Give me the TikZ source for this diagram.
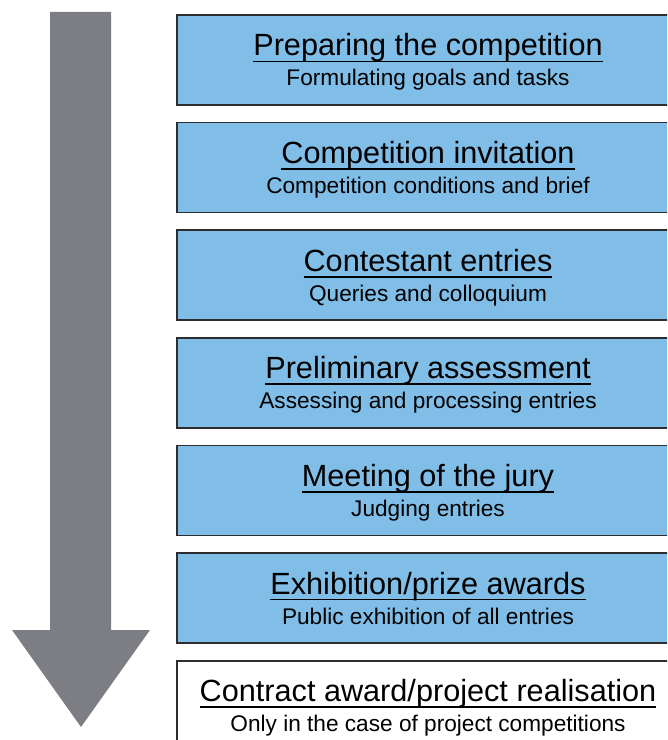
\documentclass[tikz,border=0pt]{standalone}
\usepackage{fontspec}
\setmainfont{Liberation Sans}
\usetikzlibrary{positioning}
\definecolor{stageblue}{RGB}{128,190,232}
\definecolor{arrowgray}{RGB}{125,126,131}
\definecolor{edgegray}{RGB}{45,45,48}
\newsavebox{\titlebox}
\newcommand{\stagetitle}[1]{%
  \sbox{\titlebox}{\fontsize{21.8}{24}\selectfont #1}%
  \rule{0pt}{19pt}\rlap{\rule[-4.5pt]{\wd\titlebox}{1.2pt}}\usebox{\titlebox}}
\newcommand{\stagesub}[1]{\rule[-3.5pt]{0pt}{3.5pt}#1}

\begin{document}
\begin{tikzpicture}[%
        x=0.025cm,y=-0.025cm,
        node distance=0.44cm,
        stage/.style={%
          rectangle,
          minimum width=12.55cm,
          minimum height=2.25cm,
          inner sep=0pt,
          outer sep=0pt,
          align=center,
          font=\fontsize{16.1}{21.3}\selectfont,
          draw=edgegray,
          line width=1.1pt,
          fill=stageblue
        },
        laststage/.style={stage,fill=white}
      ]
      \useasboundingbox (0,0) rectangle (667,740);
      \clip (0,0) rectangle (667,740);
      \fill[arrowgray] (50,12) -- (111,12) -- (111,630) -- (150,630)
        -- (81,727) -- (12,630) -- (50,630) -- cycle;
      \node[stage] (1) at (428,60)
        {\stagetitle{Preparing the competition}\\\stagesub{Formulating goals and tasks}};
      \node[stage] (2) [below=of 1]
        {\stagetitle{Competition invitation}\\\stagesub{Competition conditions and brief}};
      \node[stage] (3) [below=of 2]
        {\stagetitle{Contestant entries}\\\stagesub{Queries and colloquium}};
      \node[stage] (4) [below=of 3]
        {\stagetitle{Preliminary assessment}\\\stagesub{Assessing and processing entries}};
      \node[stage] (5) [below=of 4]
        {\stagetitle{Meeting of the jury}\\\stagesub{Judging entries}};
      \node[stage] (6) [below=of 5]
        {\stagetitle{Exhibition/prize awards}\\\stagesub{Public exhibition of all entries}};
      \node[laststage] (7) [below=of 6]
        {\stagetitle{Contract award/project realisation}\\\stagesub{Only in the case of project competitions}};
  \end{tikzpicture}
\end{document}
